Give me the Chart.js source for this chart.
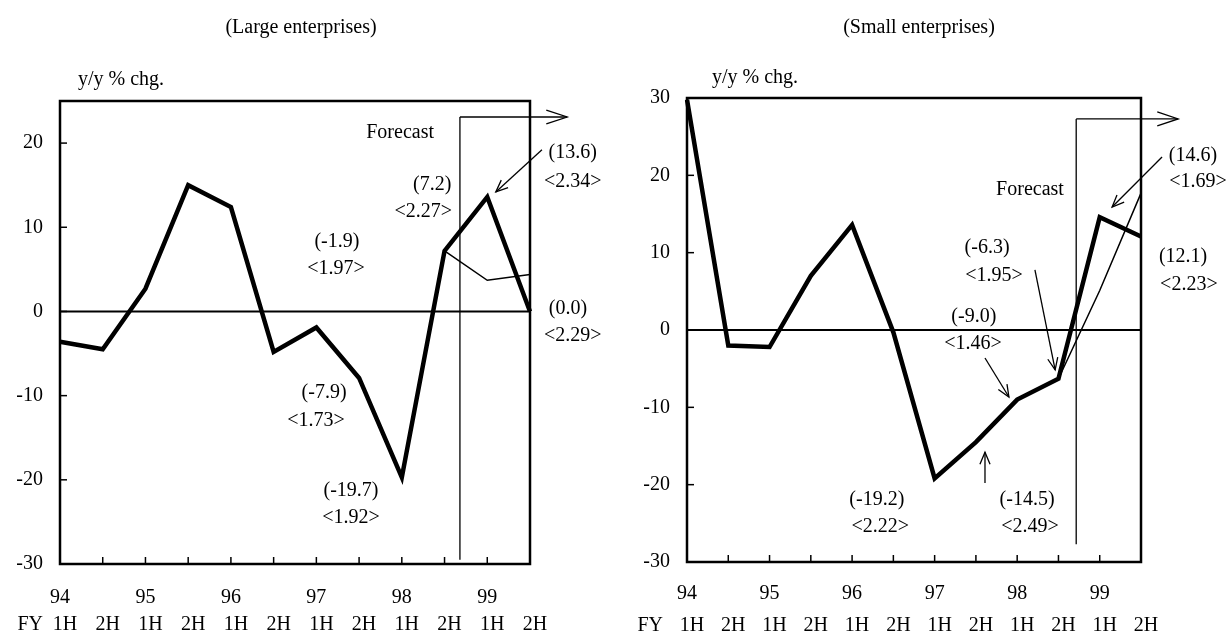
<!DOCTYPE html>
<html lang="en">
<head>
<meta charset="UTF-8">
<title>Business fixed investment by size</title>
<script src="https://cdn.jsdelivr.net/npm/chart.js"></script>
<style>
  body { margin: 0; background: #fff; }
  .panel { position: absolute; top: 0; width: 615px; height: 635px; }
</style>
</head>
<body>
<div class="panel" style="left:0"><canvas id="chartLarge" width="615" height="635"></canvas></div>
<div class="panel" style="left:615px"><canvas id="chartSmall" width="615" height="635"></canvas></div>

<script>
// half-year periods, FY94 1H .. FY99 2H
const periods = ['94 1H', '94 2H', '95 1H', '95 2H', '96 1H', '96 2H', '97 1H', '97 2H', '98 1H', '98 2H', '99 1H', '99 2H'];
const yearLabels = ['94', '', '95', '', '96', '', '97', '', '98', '', '99', ''];
const halfLabels = ['1H', '2H', '1H', '2H', '1H', '2H', '1H', '2H', '1H', '2H', '1H', '2H'];

// y/y % chg.
const largeActual = [-3.6, -4.5, 2.7, 15.0, 12.4, -4.8, -1.9, -7.9, -19.7, 7.2, 13.6, 0.0];
const largeForecast = [null, null, null, null, null, null, null, null, null, 7.2, 3.7, 4.4];
const smallActual = [29.8, -2.0, -2.2, 7.0, 13.6, -0.3, -19.2, -14.5, -9.0, -6.3, 14.6, 12.1];
const smallForecast = [null, null, null, null, null, null, null, null, null, -6.3, 5.1, 17.7];

const largeTicks = [-30, -20, -10, 0, 10, 20];
const smallTicks = [-30, -20, -10, 0, 10, 20, 30];

const FONT = '"Liberation Serif", "Times New Roman", serif';

function line(ctx, x1, y1, x2, y2) {
    ctx.beginPath();
    ctx.moveTo(x1, y1);
    ctx.lineTo(x2, y2);
    ctx.stroke();
}

function arrow(ctx, x1, y1, x2, y2, len, ang) {
    line(ctx, x1, y1, x2, y2);
    const a = Math.atan2(y2 - y1, x2 - x1);
    ctx.beginPath();
    ctx.moveTo(x2 - len * Math.cos(a - ang), y2 - len * Math.sin(a - ang));
    ctx.lineTo(x2, y2);
    ctx.lineTo(x2 - len * Math.cos(a + ang), y2 - len * Math.sin(a + ang));
    ctx.stroke();
}

const frame = {
    id: 'frame',
    beforeDatasetsDraw(chart) {
        const { ctx, chartArea: a, scales: { x, y } } = chart;
        ctx.save();
        ctx.strokeStyle = '#000';
        // zero line
        ctx.lineWidth = 2;
        const y0 = y.getPixelForValue(0);
        line(ctx, a.left, y0, a.right, y0);
        // ticks pointing inside
        ctx.lineWidth = 1.5;
        y.ticks.forEach(t => {
            const py = y.getPixelForValue(t.value);
            line(ctx, a.left, py, a.left + 7, py);
        });
        for (let i = 1; i < periods.length - 1; i++) {
            const px = x.getPixelForValue(i);
            line(ctx, px, a.bottom, px, a.bottom - 7);
        }
        ctx.restore();
    },
    afterDatasetsDraw(chart, args, opts) {
        const { ctx, chartArea: a, scales: { x, y } } = chart;
        const px = v => x.getPixelForValue(v);
        const py = v => y.getPixelForValue(v);
        ctx.save();
        ctx.strokeStyle = '#000';
        ctx.fillStyle = '#000';
        ctx.lineWidth = 2.5;
        ctx.strokeRect(a.left, a.top, a.right - a.left, a.bottom - a.top);

        // forecast bracket
        const f = opts.forecast;
        ctx.lineWidth = 1.3;
        line(ctx, px(f.x), py(f.top), px(f.x), py(f.bottom));
        arrow(ctx, px(f.x), py(f.top), px(f.arrowTo), py(f.top), 22, 0.32);

        // pointer arrows
        opts.arrows.forEach(r => arrow(ctx, px(r.from[0]), py(r.from[1]), px(r.to[0]), py(r.to[1]), 13, 0.4));

        ctx.font = '20px ' + FONT;
        ctx.textBaseline = 'middle';
        ctx.textAlign = 'center';
        opts.notes.forEach(n => ctx.fillText(n.text, px(n.x), py(n.y)));

        ctx.fillText(opts.title, opts.titleX, 28);
        ctx.textAlign = 'left';
        ctx.fillText('y/y % chg.', opts.unitX, opts.unitY);
        ctx.textAlign = 'right';
        ctx.fillText('FY', opts.fyX, opts.fyY);
        ctx.restore();
    }
};

function makeChart(id, actual, forecast, yMin, yMax, ticks, lay, deco) {
    return new Chart(document.getElementById(id), {
        type: 'line',
        data: {
            labels: periods,
            datasets: [
                { data: actual, borderColor: '#000', borderWidth: 4.5, pointRadius: 0, borderJoinStyle: 'miter', tension: 0 },
                { data: forecast, borderColor: '#000', borderWidth: 1.5, pointRadius: 0, tension: 0, spanGaps: false }
            ]
        },
        options: {
            responsive: false,
            animation: false,
            devicePixelRatio: 1,
            layout: { padding: { top: lay.top, right: lay.right, left: 0, bottom: 0 } },
            plugins: { legend: { display: false }, tooltip: { enabled: false }, frame: deco },
            scales: {
                x: {
                    type: 'category',
                    offset: false,
                    weight: 0,
                    grid: { display: false, drawTicks: false },
                    border: { display: false },
                    ticks: {
                        autoSkip: false, maxRotation: 0, padding: lay.yearPad,
                        color: '#000', font: { family: FONT, size: 20 },
                        callback: (v, i) => yearLabels[i]
                    },
                    afterFit: s => { s.height = lay.yearH; }
                },
                x2: {
                    type: 'category',
                    labels: halfLabels,
                    position: 'bottom',
                    offset: false,
                    weight: 1,
                    grid: { display: false, drawTicks: false },
                    border: { display: false },
                    ticks: {
                        autoSkip: false, maxRotation: 0, padding: lay.halfPad, labelOffset: 5,
                        color: '#000', font: { family: FONT, size: 20 }
                    },
                    afterFit: s => { s.height = 635 - lay.bottom - lay.yearH; }
                },
                y: {
                    min: yMin,
                    max: yMax,
                    grid: { display: false, drawTicks: false },
                    border: { display: false },
                    ticks: { padding: 17, color: '#000', font: { family: FONT, size: 20 } },
                    afterBuildTicks: s => { s.ticks = ticks.map(v => ({ value: v })); },
                    afterFit: s => { s.width = lay.left; }
                }
            }
        },
        plugins: [frame]
    });
}

makeChart('chartLarge', largeActual, largeForecast, -30, 25, largeTicks,
    { top: 101, right: 85, left: 60, bottom: 564, yearH: 48, yearPad: 22, halfPad: 1 },
    {
        title: '(Large enterprises)', titleX: 301,
        unitX: 78, unitY: 80, fyX: 43, fyY: 625,
        forecast: { x: 9.36, top: 23.1, bottom: -29.5, arrowTo: 11.87 },
        arrows: [{ from: [11.28, 19.2], to: [10.2, 14.2] }],
        notes: [
            { text: 'Forecast', x: 7.96, y: 21.2 },
            { text: '(13.6)', x: 12.0, y: 18.83 }, { text: '<2.34>', x: 12.0, y: 15.38 },
            { text: '(7.2)', x: 8.71, y: 15.03 }, { text: '<2.27>', x: 8.5, y: 11.82 },
            { text: '(-1.9)', x: 6.48, y: 8.26 }, { text: '<1.97>', x: 6.46, y: 5.05 },
            { text: '(0.0)', x: 11.89, y: 0.3 }, { text: '<2.29>', x: 12.0, y: -2.91 },
            { text: '(-7.9)', x: 6.18, y: -9.68 }, { text: '<1.73>', x: 5.99, y: -13.0 },
            { text: '(-19.7)', x: 6.81, y: -21.3 }, { text: '<1.92>', x: 6.81, y: -24.5 }
        ]
    });

makeChart('chartSmall', smallActual, smallForecast, -30, 30, smallTicks,
    { top: 98, right: 89, left: 72, bottom: 562, yearH: 49, yearPad: 20, halfPad: 3 },
    {
        title: '(Small enterprises)', titleX: 304,
        unitX: 97, unitY: 78, fyX: 48, fyY: 626,
        forecast: { x: 9.43, top: 27.3, bottom: -27.7, arrowTo: 11.9 },
        arrows: [
            { from: [11.51, 22.37], to: [10.3, 15.9] },
            { from: [8.43, 7.76], to: [8.92, -5.17] },
            { from: [7.22, -3.62], to: [7.8, -8.66] },
            { from: [7.22, -19.8], to: [7.22, -15.8] }
        ],
        notes: [
            { text: 'Forecast', x: 8.31, y: 18.1 },
            { text: '(14.6)', x: 12.26, y: 22.5 }, { text: '<1.69>', x: 12.38, y: 19.14 },
            { text: '(12.1)', x: 12.02, y: 9.44 }, { text: '<2.23>', x: 12.16, y: 5.82 },
            { text: '(-6.3)', x: 7.27, y: 10.6 }, { text: '<1.95>', x: 7.44, y: 6.98 },
            { text: '(-9.0)', x: 6.95, y: 1.68 }, { text: '<1.46>', x: 6.93, y: -1.81 },
            { text: '(-19.2)', x: 4.6, y: -22.0 }, { text: '<2.22>', x: 4.68, y: -25.5 },
            { text: '(-14.5)', x: 8.24, y: -22.0 }, { text: '<2.49>', x: 8.31, y: -25.5 }
        ]
    });
</script>
</body>
</html>
